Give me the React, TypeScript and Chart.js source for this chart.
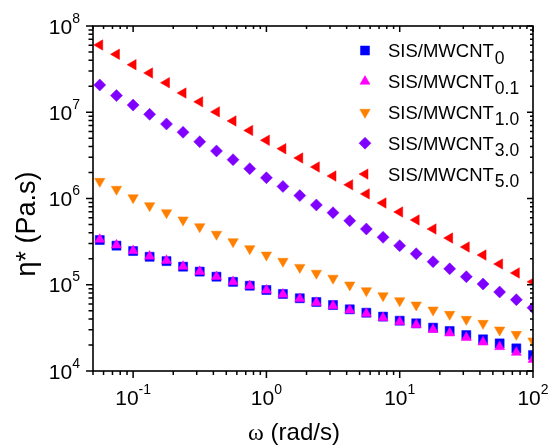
import React, { useEffect, useRef } from 'react';
import { Chart, registerables } from 'chart.js';
import { drawPoint } from 'chart.js/helpers';

Chart.register(...registerables);

// angular frequency (rad/s)
const omega = [0.0562, 0.075, 0.1, 0.133, 0.178, 0.237, 0.316, 0.422, 0.562, 0.75, 1, 1.33, 1.78, 2.37, 3.16, 4.22, 5.62, 7.5, 10, 13.3, 17.8, 23.7, 31.6, 42.2, 56.2, 75, 100];

// complex viscosity eta* (Pa.s)
const eta0 = [3.30e5, 2.84e5, 2.46e5, 2.11e5, 1.88e5, 1.62e5, 1.42e5, 1.24e5, 1.08e5, 9.75e4, 8.69e4, 7.82e4, 6.97e4, 6.31e4, 5.82e4, 5.19e4, 4.74e4, 4.27e4, 3.83e4, 3.57e4, 3.18e4, 2.91e4, 2.61e4, 2.33e4, 2.09e4, 1.83e4, 1.53e4];
const eta01 = [3.35e5, 2.88e5, 2.48e5, 2.14e5, 1.91e5, 1.63e5, 1.42e5, 1.24e5, 1.08e5, 9.73e4, 8.65e4, 7.76e4, 6.89e4, 6.21e4, 5.71e4, 5.07e4, 4.62e4, 4.14e4, 3.72e4, 3.43e4, 3.02e4, 2.75e4, 2.44e4, 2.16e4, 1.91e4, 1.64e4, 1.36e4];
const eta10 = [1.58e6, 1.28e6, 1.02e6, 8.26e5, 6.84e5, 5.64e5, 4.71e5, 3.85e5, 3.16e5, 2.62e5, 2.21e5, 1.87e5, 1.59e5, 1.36e5, 1.19e5, 9.93e4, 8.53e4, 7.46e4, 6.53e4, 5.82e4, 5.09e4, 4.54e4, 3.97e4, 3.57e4, 2.99e4, 2.66e4, 2.23e4];
const eta30 = [2.07e7, 1.56e7, 1.21e7, 9.46e6, 7.31e6, 5.86e6, 4.56e6, 3.56e6, 2.82e6, 2.22e6, 1.74e6, 1.38e6, 1.08e6, 8.41e5, 6.84e5, 5.53e5, 4.43e5, 3.55e5, 2.84e5, 2.29e5, 1.85e5, 1.53e5, 1.24e5, 1.02e5, 8.24e4, 6.71e4, 5.42e4];
const eta50 = [6.03e7, 4.70e7, 3.56e7, 2.85e7, 2.20e7, 1.67e7, 1.32e7, 1.01e7, 7.93e6, 6.15e6, 4.73e6, 3.78e6, 2.95e6, 2.32e6, 1.82e6, 1.44e6, 1.13e6, 8.87e5, 6.97e5, 5.64e5, 4.43e5, 3.48e5, 2.74e5, 2.21e5, 1.74e5, 1.37e5, 1.08e5];

const legendBase = 'SIS/MWCNT';
const legendSubs = ['0', '0.1', '1.0', '3.0', '5.0'];

const xTickValues = [0.1, 1, 10, 100];
const xTickExps = ['-1', '0', '1', '2'];
const yTickValues = [1e4, 1e5, 1e6, 1e7, 1e8];
const yTickExps = ['4', '5', '6', '7', '8'];

const SANS = '"Liberation Sans", Arial, sans-serif';
const SERIF = '"Liberation Serif", "Times New Roman", serif';

const framePlugin = {
  id: 'frame',
  beforeDraw(chart: any) {
    const ctx = chart.ctx;
    ctx.save();
    ctx.fillStyle = '#ffffff';
    ctx.fillRect(0, 0, chart.width, chart.height);
    ctx.restore();
  },
  afterDraw(chart: any) {
    const ctx: CanvasRenderingContext2D = chart.ctx;
    const a = chart.chartArea;
    const xs = chart.scales.x;
    const ys = chart.scales.y;
    ctx.save();
    ctx.strokeStyle = '#000';
    ctx.fillStyle = '#000';
    ctx.lineWidth = 1.6;
    ctx.strokeRect(a.left, a.top, a.right - a.left, a.bottom - a.top);

    const minorVals = (min: number, max: number) => {
      const out: { v: number; major: boolean }[] = [];
      for (let d = Math.floor(Math.log10(min)) - 1; d <= Math.ceil(Math.log10(max)); d++) {
        for (let m = 1; m <= 9; m++) {
          const v = m * Math.pow(10, d);
          if (v >= min * 0.999 && v <= max * 1.001) out.push({ v, major: m === 1 });
        }
      }
      return out;
    };

    ctx.lineWidth = 1.5;
    ctx.beginPath();
    for (const t of minorVals(xs.min, xs.max)) {
      const px = xs.getPixelForValue(t.v);
      ctx.moveTo(px, a.bottom);
      ctx.lineTo(px, a.bottom + (t.major ? 7 : 4));
      ctx.moveTo(px, a.top);
      ctx.lineTo(px, a.top + (t.major ? 6 : 3));
    }
    for (const t of minorVals(ys.min, ys.max)) {
      const py = ys.getPixelForValue(t.v);
      ctx.moveTo(a.left, py);
      ctx.lineTo(a.left - (t.major ? 7 : 4.5), py);
      ctx.moveTo(a.right, py);
      ctx.lineTo(a.right - (t.major ? 6 : 3), py);
    }
    ctx.stroke();

    const bigFont = '21px ' + SANS;
    const supFont = '14px ' + SANS;
    // x tick labels
    xTickValues.forEach((v, i) => {
      const px = xs.getPixelForValue(v);
      ctx.font = bigFont;
      const w1 = ctx.measureText('10').width;
      ctx.font = supFont;
      const w2 = ctx.measureText(xTickExps[i]).width;
      const x0 = px - (w1 + w2) / 2;
      const base = 405;
      ctx.textAlign = 'left';
      ctx.textBaseline = 'alphabetic';
      ctx.font = bigFont;
      ctx.fillText('10', x0, base);
      ctx.font = supFont;
      ctx.fillText(xTickExps[i], x0 + w1, base - 11.5);
    });
    // y tick labels
    yTickValues.forEach((v, i) => {
      const py = ys.getPixelForValue(v);
      ctx.font = supFont;
      const w2 = ctx.measureText(yTickExps[i]).width;
      ctx.font = bigFont;
      const w1 = ctx.measureText('10').width;
      const right = 80;
      const base = py + 7.5;
      ctx.textAlign = 'left';
      ctx.textBaseline = 'alphabetic';
      ctx.fillText('10', right - w2 - w1, base);
      ctx.font = supFont;
      ctx.fillText(yTickExps[i], right - w2, base - 11);
    });

    // y title
    ctx.save();
    ctx.translate(28, 224);
    ctx.rotate(-Math.PI / 2);
    ctx.font = '27px ' + SANS;
    ctx.textAlign = 'center';
    ctx.textBaseline = 'middle';
    ctx.fillText('η* (Pa.s)', 0, 0);
    ctx.restore();

    // x title
    {
      const fs = 24;
      ctx.font = fs + 'px ' + SERIF;
      const wo = ctx.measureText('ω').width;
      ctx.font = fs + 'px ' + SANS;
      const wr = ctx.measureText(' (rad/s)').width;
      const x0 = 294 - (wo + wr) / 2;
      const base = 440;
      ctx.textAlign = 'left';
      ctx.textBaseline = 'alphabetic';
      ctx.font = fs + 'px ' + SERIF;
      ctx.fillText('ω', x0, base);
      ctx.font = fs + 'px ' + SANS;
      ctx.fillText(' (rad/s)', x0 + wo, base);
    }

    // legend
    const order = [0, 1, 2, 3, 4];
    order.forEach((di, row) => {
      const ds = chart.data.datasets[di];
      const cy = 50.5 + 30.9 * row;
      const cx = 365;
      ctx.fillStyle = ds.backgroundColor;
      ctx.strokeStyle = ds.borderColor;
      ctx.lineWidth = ds.borderWidth;
      drawPoint(ctx, { pointStyle: ds.pointStyle, rotation: ds.rotation, radius: ds.pointRadius, borderWidth: ds.borderWidth } as any, cx, cy);
      ctx.fillStyle = '#000';
      ctx.font = '18.5px ' + SANS;
      ctx.textAlign = 'left';
      ctx.textBaseline = 'alphabetic';
      const base = cy + 6.5;
      ctx.fillText(legendBase, 388, base);
      const w = ctx.measureText(legendBase).width;
      ctx.font = '17.5px ' + SANS;
      ctx.fillText(legendSubs[row], 388 + w + 1, base + 6.5);
    });
    ctx.restore();
  },
};

export default function App() {
  const ref = useRef<HTMLCanvasElement>(null);
  useEffect(() => {
    const canvas = ref.current as HTMLCanvasElement;
    const mk = (label: string, vals: number[], color: string, style: string, rotation: number, radius: number, order: number) => ({
      label,
      data: omega.map((x, i) => ({ x, y: vals[i] })),
      pointStyle: style,
      rotation,
      pointRadius: radius,
      pointHoverRadius: radius,
      backgroundColor: color,
      borderColor: color,
      borderWidth: 0.5,
      showLine: false,
      clip: 0,
      order,
    });
    const chart = new Chart(canvas, {
      type: 'scatter',
      data: {
        datasets: [
          mk(legendBase + legendSubs[0], eta0, '#0000ff', 'rect', 0, 6.4, 5),
          mk(legendBase + legendSubs[1], eta01, '#ff00ff', 'triangle', 0, 5.8, 1),
          mk(legendBase + legendSubs[2], eta10, '#ff8000', 'triangle', 180, 6, 3),
          mk(legendBase + legendSubs[3], eta30, '#8000ff', 'rectRot', 0, 6, 2),
          mk(legendBase + legendSubs[4], eta50, '#ff0000', 'triangle', -90, 6, 4),
        ] as any,
      },
      options: {
        animation: false,
        responsive: false,
        devicePixelRatio: 1,
        events: [],
        layout: { padding: { left: 93, top: 26, right: 19, bottom: 76 } },
        plugins: { legend: { display: false }, tooltip: { enabled: false } },
        scales: {
          x: { type: 'logarithmic', min: 0.05, max: 100, display: false },
          y: { type: 'logarithmic', min: 1e4, max: 1e8, display: false },
        },
      } as any,
      plugins: [framePlugin],
    });
    return () => chart.destroy();
  }, []);
  return (
    <div style={{ position: 'fixed', left: 0, top: 0, width: 552, height: 447, background: '#fff' }}>
      <canvas ref={ref} width={552} height={447} style={{ display: 'block' }} />
    </div>
  );
}
